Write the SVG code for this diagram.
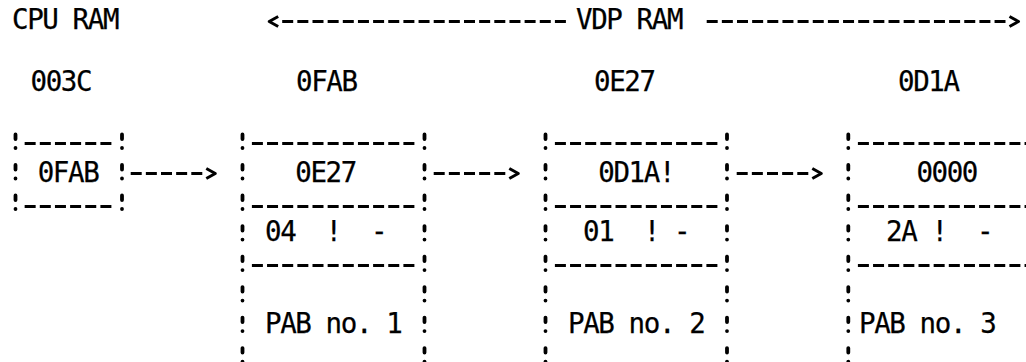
<svg xmlns="http://www.w3.org/2000/svg" width="1026" height="362" viewBox="0 0 1026 362">
  <style>
    text { font-family: "DejaVu Sans Mono", "Liberation Mono", monospace; font-size: 27.5px; letter-spacing: -1.41px; fill: #000; stroke: #000; stroke-width: 0.25px; white-space: pre; }
    .hd { fill: none; stroke: #000; stroke-width: 3.2; stroke-dasharray: 11 4.15; }
    .vb { fill: none; stroke: #000; stroke-width: 3.8; stroke-linecap: round; stroke-dasharray: 4.5 9 0.01 17; }
  </style>
  <defs>
    <marker id="chev" viewBox="-2 -8 20 16" refX="0" refY="0" markerWidth="20" markerHeight="16" markerUnits="userSpaceOnUse" orient="auto-start-reverse" overflow="visible">
      <path d="M4,-5 L13,0 L4,5" fill="none" stroke="#000" stroke-width="3" stroke-linejoin="round"/>
    </marker>
  </defs>
  <rect width="1026" height="362" fill="#fff"/>

  <g id="titles">
    <text x="12" y="29">CPU RAM</text>
    <g id="vdp-range">
      <line class="hd" x1="282.2" y1="21.5" x2="565.9" y2="21.5" marker-start="url(#chev)"/>
      <text x="576" y="29">VDP RAM</text>
      <line class="hd" x1="706.7" y1="21.5" x2="1005.5" y2="21.5" marker-end="url(#chev)"/>
    </g>
  </g>

  <g id="node-cpu">
    <text x="30.5" y="91">003C</text>
    <line class="hd" x1="24.65" y1="143.5" x2="111.4" y2="143.5"/>
    <line class="hd" x1="24.65" y1="206.5" x2="111.4" y2="206.5"/>
    <line class="vb" x1="15.5" y1="134.5" x2="15.5" y2="210"/>
    <line class="vb" x1="122" y1="134.5" x2="122" y2="210"/>
    <text x="37.7" y="182">0FAB</text>
  </g>

  <g id="node-pab1">
    <text x="296" y="91">0FAB</text>
    <line class="hd" x1="251.9" y1="143.5" x2="414.4" y2="143.5"/>
    <line class="hd" x1="251.9" y1="206.5" x2="414.4" y2="206.5"/>
    <line class="hd" x1="251.9" y1="265.5" x2="414.4" y2="265.5"/>
    <line class="vb" x1="242.5" y1="134.5" x2="242.5" y2="370"/>
    <line class="vb" x1="424.5" y1="134.5" x2="424.5" y2="370"/>
    <text x="295.3" y="182">0E27</text>
    <text x="265" y="240.5">04  !  -</text>
    <text x="265" y="333">PAB no. 1</text>
  </g>

  <g id="node-pab2">
    <text x="594" y="91">0E27</text>
    <line class="hd" x1="554.9" y1="143.5" x2="717.4" y2="143.5"/>
    <line class="hd" x1="554.9" y1="206.5" x2="717.4" y2="206.5"/>
    <line class="hd" x1="554.9" y1="265.5" x2="717.4" y2="265.5"/>
    <line class="vb" x1="545.5" y1="134.5" x2="545.5" y2="370"/>
    <line class="vb" x1="727" y1="134.5" x2="727" y2="370"/>
    <text x="598.3" y="182">0D1A!</text>
    <text x="583.1" y="240.5">01  ! -</text>
    <text x="568" y="333">PAB no. 2</text>
  </g>

  <g id="node-pab3">
    <text x="898" y="91">0D1A</text>
    <line class="hd" x1="857.9" y1="143.5" x2="1030" y2="143.5"/>
    <line class="hd" x1="857.9" y1="206.5" x2="1030" y2="206.5"/>
    <line class="hd" x1="857.9" y1="265.5" x2="1030" y2="265.5"/>
    <line class="vb" x1="848.3" y1="134.5" x2="848.3" y2="370"/>
    <text x="916.4" y="182">0000</text>
    <text x="886.1" y="240.5">2A !  -</text>
    <text x="859" y="333">PAB no. 3</text>
  </g>

  <g id="connectors">
    <line class="hd" x1="130.7" y1="173.5" x2="202.3" y2="173.5" marker-end="url(#chev)"/>
    <line class="hd" x1="433.7" y1="173.5" x2="505.3" y2="173.5" marker-end="url(#chev)"/>
    <line class="hd" x1="736.7" y1="173.5" x2="808.3" y2="173.5" marker-end="url(#chev)"/>
  </g>
</svg>
